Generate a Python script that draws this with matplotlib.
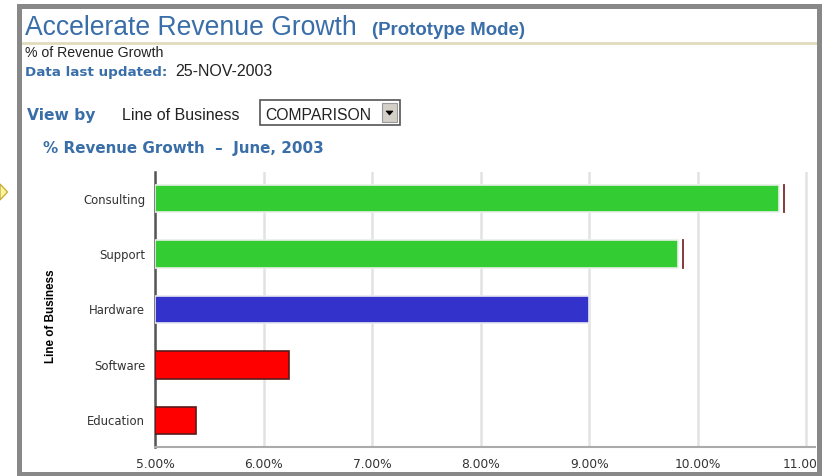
import matplotlib
matplotlib.use("Agg")
import matplotlib.pyplot as plt
from matplotlib.patches import Rectangle, Polygon
from matplotlib.lines import Line2D

# data
categories = ["Education", "Software", "Hardware", "Support", "Consulting"]
growth = [5.38, 6.23, 9.00, 9.82, 10.75]
bar_colors = ["#ff0000", "#ff0000", "#3333cc", "#33cc33", "#33cc33"]
edge_colors = ["#5a1a1a", "#5a1a1a", "#e8e8f0", "#e8f0e8", "#e8f0e8"]
marker_cats = ["Support", "Consulting"]
marker_vals = [9.86, 10.79]
xticks = [5, 6, 7, 8, 9, 10, 11]
xtick_labels = ["5.00%", "6.00%", "7.00%", "8.00%", "9.00%", "10.00%", "11.00%"]

W, H = 825, 476
blue = "#3a6ea8"

fig = plt.figure(figsize=(W / 100, H / 100), dpi=100)
fig.patch.set_facecolor("white")


def fx(x):
    return x / W


def fy(y):
    return 1 - y / H


# chart area
ax_w = fx(815) - fx(155)
ax = fig.add_axes([fx(155), fy(447), ax_w, fy(172) - fy(447)])
ypos = list(range(len(categories)))
ax.barh(ypos, [g - 5 for g in growth], left=5, height=0.49,
        color=bar_colors, edgecolor=edge_colors, linewidth=1.2, zorder=3)
for cat, val in zip(marker_cats, marker_vals):
    i = categories.index(cat)
    ax.plot([val, val], [i - 0.245, i + 0.245], color="#7a2a2a", lw=1.3, zorder=4)

ax.set_xlim(5, 11.08)
ax.set_ylim(-0.48, 4.48)
ax.set_xticks(xticks)
ax.set_xticklabels(xtick_labels)
ax.set_yticks(ypos)
ax.set_yticklabels(categories)
ax.tick_params(axis="both", length=0, colors="#333333")
ax.tick_params(axis="x", labelsize=8.8, pad=8)
ax.tick_params(axis="y", labelsize=8.4, pad=7)
for lab in ax.get_xticklabels() + ax.get_yticklabels():
    lab.set_family("DejaVu Sans")
ax.grid(axis="x", color="#e2e2e2", lw=1.8, zorder=0)
ax.set_axisbelow(True)
for s in ["top", "right"]:
    ax.spines[s].set_visible(False)
ax.spines["left"].set_color("#555555")
ax.spines["left"].set_linewidth(1.8)
ax.spines["bottom"].set_color("#aaaaaa")
ax.spines["bottom"].set_linewidth(1.5)
ax.set_ylabel("Line of Business", fontsize=8.4, fontweight="bold",
              family="Liberation Sans", color="black")
ax.yaxis.set_label_coords((57 - 155) / (815 - 155), 0.476)

# page header
fig.text(fx(25), fy(35), "Accelerate Revenue Growth", fontsize=19.1,
         family="Liberation Sans", color=blue, va="baseline")
fig.text(fx(372), fy(35), "(Prototype Mode)", fontsize=13.4, fontweight="bold",
         family="Liberation Sans", color=blue, va="baseline")
fig.add_artist(Line2D([fx(22), fx(817)], [fy(42.5), fy(42.5)], color="#e0dcbc", lw=2))
fig.text(fx(25), fy(57), "% of Revenue Growth", fontsize=10.2,
         family="Liberation Sans", color="#222222", va="baseline")
fig.text(fx(25), fy(76), "Data last updated:", fontsize=9.7, fontweight="bold",
         family="DejaVu Sans", color=blue, va="baseline")
fig.text(fx(175), fy(76), "25-NOV-2003", fontsize=11.5,
         family="Liberation Sans", color="#222222", va="baseline")
fig.text(fx(27), fy(120), "View by", fontsize=11.2, fontweight="bold",
         family="DejaVu Sans", color=blue, va="baseline")
fig.text(fx(122), fy(120), "Line of Business", fontsize=11.5,
         family="Liberation Sans", color="#222222", va="baseline")

# dropdown
fig.add_artist(Rectangle((fx(260), fy(125)), fx(400) - fx(260), fy(100) - fy(125),
                         facecolor="white", edgecolor="#555555", lw=1.2))
fig.text(fx(265), fy(120), "COMPARISON", fontsize=11.3,
         family="Liberation Sans", color="#222222", va="baseline")
fig.add_artist(Rectangle((fx(382), fy(122)), fx(397) - fx(382), fy(103) - fy(122),
                         facecolor="#d4d0c8", edgecolor="#999999", lw=0.8))
fig.add_artist(Polygon([(fx(386), fy(111)), (fx(393), fy(111)), (fx(389.5), fy(115))],
                       closed=True, facecolor="black", edgecolor="black", lw=0.5))

fig.text(fx(43), fy(153), "% Revenue Growth  \u2013  June, 2003", fontsize=10.9,
         fontweight="bold", family="DejaVu Sans", color=blue, va="baseline")

# yellow pointer at left edge
fig.add_artist(Polygon([(fx(0), fy(184)), (fx(7.5), fy(192)), (fx(0), fy(200))],
                       closed=True, facecolor="#fff3a0", edgecolor="#c8b040", lw=1))

# white margin past the frame, then the gray frame on top
fig.add_artist(Rectangle((fx(822), 0), fx(825) - fx(822), 1, facecolor="white",
                         edgecolor="none", zorder=20))
fig.add_artist(Rectangle((fx(18.5), fy(473.5)), fx(819.5) - fx(18.5), fy(6) - fy(473.5),
                         facecolor="none", edgecolor="#888888", lw=3.6, zorder=21))

fig.savefig("out.png", dpi=100, facecolor="white")
